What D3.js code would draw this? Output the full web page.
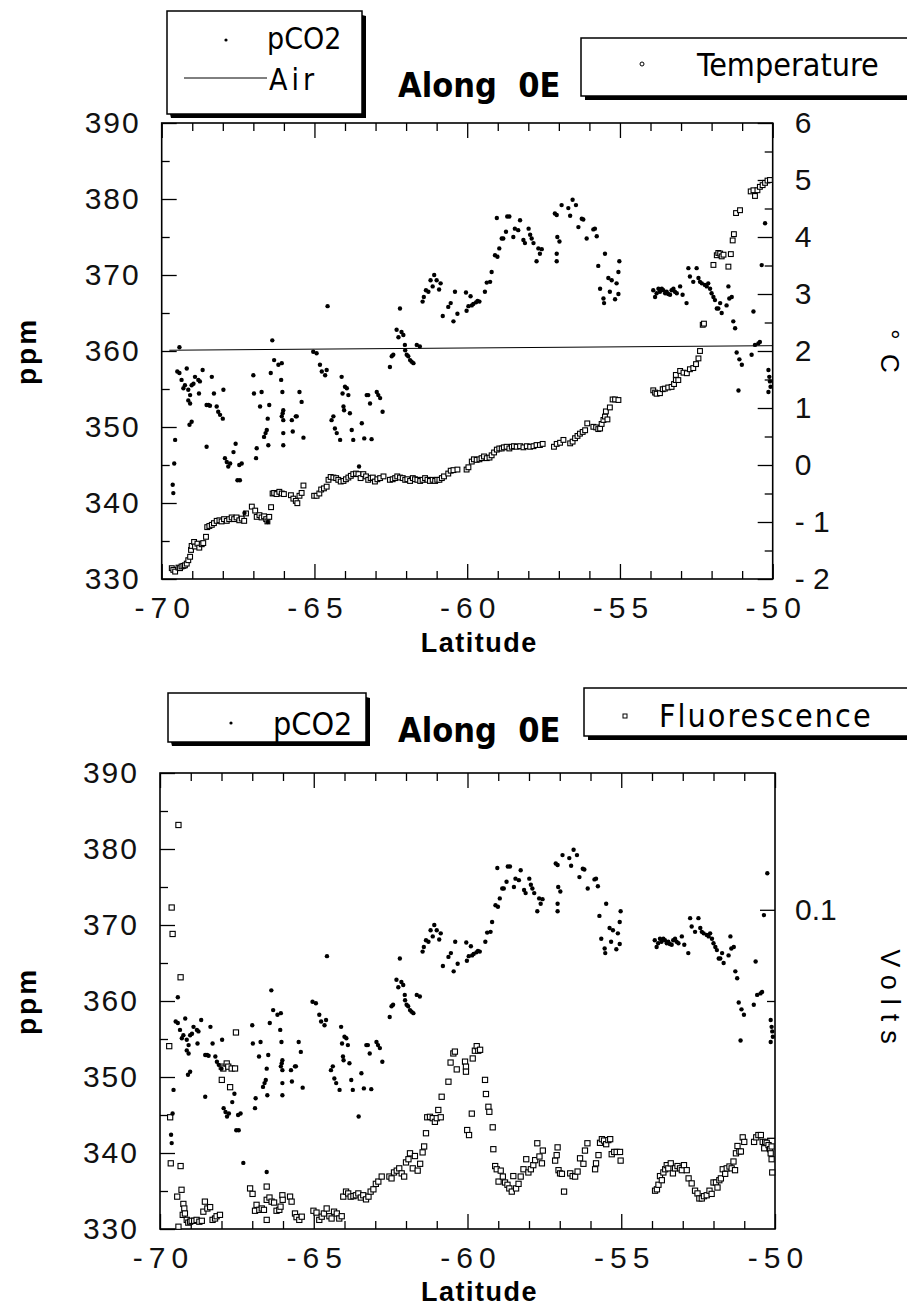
<!DOCTYPE html>
<html>
<head>
<meta charset="utf-8">
<script src="https://cdn.jsdelivr.net/npm/d3@7"></script>
<style>
  html, body { margin: 0; padding: 0; background: #fff; }
  svg { display: block; }
  .tick text { font-family: "Liberation Sans", Arial, sans-serif; font-size: 30px; fill: #111; }
</style>
</head>
<body>
<svg id="chart" width="907" height="1306"></svg>
<script>
// pCO2 along the 0°E section: [latitude, ppm]
const pco2 = [
[-69.64,342.4],[-69.62,341.3],[-69.59,345.2],[-69.56,348.3],[-69.42,360.5],[-69.49,357.3],[-69.42,357.1],[-69.35,356.2],[-69.29,355.1],[-69.24,355.5],[-69.18,357.7],[-69.13,354.9],[-69.07,354.2],[-69.02,355.5],[-68.96,355.7],[-68.91,356.6],[-68.80,356.2],[-68.75,356.0],[-68.66,357.5],[-68.78,354.4],[-69.13,353.5],[-69.07,353.1],[-69.09,350.3],[-69.02,350.7],[-68.53,352.9],[-68.47,352.9],[-68.42,352.8],[-68.36,356.6],[-68.29,354.4],[-68.20,352.7],[-68.15,352.0],[-68.09,351.6],[-68.00,351.1],[-67.98,354.9],[-68.53,347.4],[-67.93,345.9],[-67.87,345.4],[-67.82,344.8],[-67.76,345.2],[-67.65,346.7],[-67.58,347.8],[-67.52,343.0],[-67.44,343.0],[-67.46,345.0],[-67.38,345.2],[-67.29,338.7],[-67.00,356.8],[-66.98,354.4],[-66.89,347.2],[-66.91,345.9],[-66.78,352.7],[-66.73,354.6],[-66.65,348.7],[-66.60,349.2],[-66.56,349.6],[-66.53,351.1],[-66.51,347.6],[-66.48,352.9],[-66.43,357.1],[-66.38,361.4],[-66.32,358.8],[-66.18,358.2],[-66.07,358.4],[-66.09,356.2],[-66.05,354.6],[-66.02,352.2],[-66.04,351.8],[-66.07,351.4],[-66.02,350.9],[-66.02,349.2],[-66.02,347.6],[-66.53,337.5],
[-65.74,350.9],[-65.71,349.4],[-65.61,351.4],[-65.58,351.4],[-65.49,354.6],[-65.42,353.3],[-65.36,348.6],[-65.04,359.9],[-64.93,359.7],[-64.82,358.2],[-64.76,357.3],[-64.65,356.8],[-64.60,357.5],[-64.57,365.9],[-64.44,350.9],[-64.38,351.4],[-64.33,349.8],[-64.27,349.2],[-64.16,348.3],[-64.11,356.6],[-64.08,354.4],[-64.05,352.7],[-64.03,352.2],[-64.00,355.3],[-63.94,355.1],[-63.89,354.2],[-63.84,351.8],[-63.78,349.6],[-63.73,348.3],[-63.54,344.8],[-63.45,350.5],[-63.37,348.5],[-63.29,354.2],[-63.24,354.2],[-63.18,353.1],[-63.13,348.4],[-62.96,354.6],[-62.91,354.2],[-62.85,353.8],[-62.77,352.0],[-62.53,357.9],[-62.47,359.3],[-62.42,359.5],[-62.31,362.8],[-62.25,361.8],[-62.20,365.6],[-62.15,362.5],[-62.09,362.1],[-62.04,360.8],[-62.03,360.1],[-61.98,359.5],[-61.93,359.3],[-61.87,358.8],[-61.82,358.6],[-61.76,358.4],[-61.65,360.8],[-61.55,360.6],
[-61.46,366.5],[-61.42,367.1],[-61.35,368.0],[-61.27,367.8],[-61.20,369.3],[-61.13,368.5],[-61.08,370.0],[-61.00,369.3],[-60.92,368.1],[-60.87,368.9],[-60.80,364.6],[-60.62,365.8],[-60.54,366.3],[-60.45,363.9],[-60.40,367.8],[-60.32,364.9],[-60.04,367.7],[-60.02,365.3],[-59.96,365.9],[-59.89,367.2],[-59.85,366.0],[-59.80,366.2],[-59.71,366.4],[-59.66,366.6],[-59.60,366.5],[-59.42,367.8],[-59.36,369.0],[-59.25,369.1],[-59.20,370.4],[-59.09,372.6],[-59.01,372.4],[-58.95,373.5],[-58.87,374.8],[-58.82,374.8],[-58.73,375.7],[-58.69,377.7],[-58.62,377.7],[-58.49,375.0],[-58.44,376.1],[-58.33,375.9],[-59.03,377.5],[-58.27,377.2],[-58.16,374.6],[-58.11,374.2],[-57.99,376.1],[-57.94,375.3],[-57.89,374.8],[-57.83,374.2],[-57.73,371.8],[-57.67,373.5],[-57.62,372.8],[-57.56,373.4],[-57.13,378.1],[-57.07,377.9],[-57.05,375.0],[-56.98,374.4],[-57.07,372.8],[-57.07,371.8],[-56.91,379.2],[-56.69,378.8],[-56.63,377.8],[-56.55,379.9],[-56.44,379.2],[-56.36,376.3],[-56.25,377.4],[-56.20,377.3],[-56.09,374.8],[-55.87,376.0],[-55.82,376.1],[-55.76,375.1],[-55.71,371.2],[-55.65,368.2],[-55.54,366.9],[-55.52,366.3],[-55.49,372.8],[-55.38,369.6],[-55.33,367.8],[-55.27,369.3],[-55.16,366.8],[-55.11,368.9],[-55.05,370.4],[-55.02,371.8],[-55.05,367.5],
[-53.91,368.0],[-53.85,367.1],[-53.80,367.6],[-53.74,368.2],[-53.69,367.8],[-53.63,368.2],[-53.58,368.0],[-53.52,367.6],[-53.47,367.8],[-53.42,367.5],[-53.36,367.4],[-53.31,368.0],[-53.25,368.2],[-53.20,367.8],[-53.14,367.6],[-53.03,368.5],[-52.95,367.4],[-52.82,366.3],[-52.76,370.9],[-52.71,369.8],[-52.60,369.1],[-52.49,370.9],[-52.43,369.6],[-52.38,369.1],[-52.32,368.9],[-52.22,368.7],[-52.16,368.5],[-52.11,368.9],[-52.05,368.2],[-52.00,367.6],[-51.94,367.1],[-51.89,366.7],[-51.83,365.6],[-51.78,365.6],[-51.72,366.3],[-51.67,365.0],[-51.51,366.0],[-51.45,368.5],[-51.42,366.9],[-51.34,367.1],[-51.29,363.9],[-51.23,363.0],[-51.18,359.8],[-51.09,358.9],[-51.01,358.2],[-51.12,354.8],[-50.69,359.5],[-50.63,365.2],[-50.58,360.8],[-50.47,361.0],[-50.42,361.2],[-50.36,371.3],[-50.25,376.8],[-50.14,357.5],[-50.11,356.6],[-50.09,356.0],[-50.07,355.3],[-50.14,354.6]
];

// Atmospheric CO2: [latitude, ppm]
const air = [[-69.75,360.1],[-50.0,360.7]];

// Sea surface temperature: [latitude, °C]
const temperature = [
[-69.67,-1.81],[-69.62,-1.84],[-69.56,-1.87],[-69.45,-1.80],[-69.40,-1.81],[-69.35,-1.78],[-69.29,-1.77],[-69.24,-1.76],[-69.18,-1.73],[-69.13,-1.67],[-69.07,-1.61],[-69.04,-1.49],[-69.02,-1.42],[-68.94,-1.35],[-68.91,-1.43],[-68.83,-1.38],[-68.77,-1.45],[-68.69,-1.39],[-68.64,-1.37],[-68.55,-1.26],[-68.51,-1.09],[-68.44,-1.07],[-68.36,-1.05],[-68.29,-1.02],[-68.20,-0.98],[-68.11,-0.97],[-68.04,-0.99],[-67.96,-0.95],[-67.87,-0.98],[-67.79,-0.95],[-67.71,-0.92],[-67.63,-0.95],[-67.55,-0.92],[-67.46,-0.97],[-67.38,-0.94],[-67.30,-0.98],[-67.24,-0.85],[-67.05,-0.73],[-66.94,-0.80],[-66.89,-0.91],[-66.80,-0.88],[-66.73,-0.92],[-66.65,-0.90],[-66.58,-0.95],[-66.54,-0.99],[-66.48,-0.91],[-66.42,-0.74],[-66.37,-0.50],[-66.32,-0.49],[-66.24,-0.51],[-66.15,-0.47],[-66.07,-0.50],[-66.00,-0.51],[-65.77,-0.53],[-65.69,-0.59],[-65.61,-0.63],[-65.56,-0.67],[-65.49,-0.54],[-65.42,-0.49],[-65.36,-0.36],
[-65.01,-0.54],[-64.93,-0.54],[-64.84,-0.50],[-64.78,-0.43],[-64.69,-0.41],[-64.60,-0.38],[-64.54,-0.26],[-64.47,-0.21],[-64.38,-0.22],[-64.29,-0.23],[-64.22,-0.26],[-64.14,-0.29],[-64.05,-0.28],[-63.97,-0.25],[-63.89,-0.22],[-63.81,-0.19],[-63.73,-0.16],[-63.64,-0.15],[-63.56,-0.16],[-63.49,-0.23],[-63.40,-0.16],[-63.31,-0.20],[-63.24,-0.26],[-63.16,-0.23],[-63.09,-0.22],[-63.02,-0.29],[-62.94,-0.25],[-62.85,-0.23],[-62.74,-0.20],[-62.53,-0.26],[-62.44,-0.25],[-62.36,-0.23],[-62.29,-0.20],[-62.20,-0.22],[-62.11,-0.23],[-62.03,-0.26],[-61.96,-0.25],[-61.87,-0.28],[-61.78,-0.23],[-61.71,-0.25],[-61.63,-0.26],[-61.54,-0.28],[-61.46,-0.26],[-61.38,-0.23],[-61.30,-0.26],[-61.22,-0.28],[-61.13,-0.26],[-61.05,-0.28],[-60.98,-0.26],[-60.91,-0.26],[-60.83,-0.23],[-60.76,-0.20],[-60.62,-0.15],[-60.54,-0.10],[-60.45,-0.09],[-60.32,-0.08],[-60.02,-0.08],[-59.96,-0.04],[-59.85,0.06],[-59.78,0.10],[-59.69,0.09],[-59.60,0.10],[-59.53,0.12],[-59.45,0.15],[-59.36,0.12],[-59.27,0.13],[-59.20,0.17],[-59.12,0.22],[-59.03,0.27],[-58.95,0.29],[-58.87,0.29],[-58.80,0.31],[-58.71,0.32],[-58.62,0.29],[-58.54,0.32],[-58.47,0.33],[-58.38,0.32],
[-58.27,0.33],[-58.16,0.31],[-58.05,0.33],[-57.94,0.32],[-57.83,0.33],[-57.73,0.35],[-57.62,0.35],[-57.53,0.37],[-57.16,0.32],[-57.07,0.37],[-56.96,0.39],[-56.85,0.44],[-56.63,0.38],[-56.55,0.41],[-56.47,0.47],[-56.39,0.51],[-56.31,0.55],[-56.22,0.58],[-56.14,0.61],[-56.07,0.73],[-55.87,0.67],[-55.78,0.66],[-55.71,0.63],[-55.65,0.64],[-55.60,0.72],[-55.54,0.79],[-55.49,0.85],[-55.46,0.94],[-55.41,0.80],[-55.33,1.01],[-55.24,1.15],[-55.16,1.15],[-55.05,1.14],
[-53.91,1.31],[-53.85,1.27],[-53.80,1.25],[-53.69,1.26],[-53.60,1.33],[-53.53,1.34],[-53.42,1.36],[-53.31,1.37],[-53.23,1.42],[-53.17,1.49],[-53.09,1.49],[-53.17,1.58],[-53.03,1.65],[-52.92,1.62],[-52.81,1.61],[-52.71,1.68],[-52.60,1.70],[-52.51,1.77],[-52.43,1.87],[-52.38,2.00],[-52.29,2.46],[-52.25,2.48],[-51.94,3.51],[-51.83,3.68],[-51.78,3.72],[-51.72,3.71],[-51.67,3.66],[-51.61,3.69],[-51.45,3.48],[-51.37,3.70],[-51.31,3.94],[-51.27,4.05],[-51.20,4.42],[-51.07,4.47],[-50.72,4.80],[-50.63,4.82],[-50.58,4.72],[-50.50,4.82],[-50.42,4.88],[-50.33,4.91],[-50.25,4.95],[-50.17,4.99],[-50.09,5.00]
];

// Fluorometer output: [latitude, volts]
const fluorescence = [
[-69.40,0.1186],[-69.62,0.1005],[-69.59,0.0947],[-69.33,0.0852],[-69.70,0.0701],[-69.67,0.0545],[-69.65,0.0444],[-69.33,0.0438],[-69.44,0.0371],[-69.30,0.0386],[-69.24,0.0355],[-69.21,0.0345],[-69.26,0.0331],[-69.19,0.0334],[-69.13,0.0320],[-69.08,0.0314],[-69.02,0.0316],[-68.97,0.0318],[-68.89,0.0318],[-68.81,0.0320],[-68.72,0.0316],[-68.64,0.0318],[-69.40,0.0305],[-68.59,0.0338],[-68.54,0.0360],[-68.46,0.0345],[-68.37,0.0348],[-68.29,0.0320],[-68.21,0.0323],[-68.16,0.0328],[-68.05,0.0331],
[-67.99,0.0656],[-67.94,0.0652],[-67.83,0.0663],[-67.78,0.0656],[-67.67,0.0652],[-67.56,0.0652],[-67.99,0.0627],[-67.72,0.0611],[-67.53,0.0731],[-67.07,0.0389],[-66.99,0.0377],[-66.91,0.0340],[-66.86,0.0353],[-66.77,0.0342],[-66.69,0.0345],[-66.62,0.0342],[-66.53,0.0393],[-66.53,0.0364],[-66.53,0.0320],[-66.44,0.0369],[-66.37,0.0360],[-66.29,0.0358],[-66.21,0.0340],[-66.12,0.0342],[-66.08,0.0349],[-66.02,0.0374],[-66.01,0.0364],[-65.77,0.0371],[-65.72,0.0360],[-65.61,0.0334],[-65.56,0.0326],[-65.47,0.0320],[-65.39,0.0327],
[-65.01,0.0340],[-64.91,0.0336],[-64.82,0.0320],[-64.74,0.0327],[-64.67,0.0334],[-64.58,0.0345],[-64.49,0.0328],[-64.42,0.0323],[-64.34,0.0338],[-64.25,0.0334],[-64.17,0.0323],[-64.09,0.0328],[-64.04,0.0371],[-63.95,0.0382],[-63.88,0.0378],[-63.80,0.0371],[-63.71,0.0372],[-63.63,0.0374],[-63.55,0.0378],[-63.47,0.0369],[-63.39,0.0374],[-63.30,0.0365],[-63.22,0.0371],[-63.15,0.0382],[-63.06,0.0387],[-62.98,0.0399],[-62.90,0.0404],[-62.79,0.0415],[-62.54,0.0415],[-62.47,0.0411],[-62.39,0.0424],[-62.30,0.0428],[-62.22,0.0433],[-62.14,0.0422],[-62.06,0.0415],[-62.00,0.0446],[-61.92,0.0453],[-61.87,0.0466],[-61.78,0.0433],[-61.71,0.0460],[-61.62,0.0428],[-61.54,0.0443],[-61.46,0.0468],[-61.41,0.0481],[-61.35,0.0510],[-61.31,0.0545],[-61.22,0.0546],[-61.13,0.0543],[-61.06,0.0535],[-61.00,0.0543],[-60.95,0.0561],[-60.87,0.0545],[-60.84,0.0590],[-60.62,0.0623],[-60.55,0.0665],[-60.46,0.0685],[-60.41,0.0689],[-60.35,0.0650],[-60.08,0.0667],[-60.05,0.0656],[-60.05,0.0645],[-60.01,0.0517],[-59.95,0.0506],[-59.86,0.0553],[-59.83,0.0674],[-59.76,0.0691],[-59.70,0.0701],[-59.65,0.0691],[-59.59,0.0693],[-59.43,0.0627],[-59.40,0.0596],[-59.32,0.0568],[-59.29,0.0557],[-59.18,0.0523],[-59.16,0.0475],
[-59.10,0.0438],[-59.05,0.0431],[-58.99,0.0404],[-58.92,0.0428],[-58.85,0.0415],[-58.78,0.0402],[-58.70,0.0397],[-58.64,0.0389],[-58.56,0.0382],[-58.51,0.0416],[-58.42,0.0389],[-58.34,0.0399],[-58.27,0.0415],[-58.18,0.0431],[-58.09,0.0453],[-58.02,0.0424],[-57.94,0.0431],[-57.86,0.0440],[-57.80,0.0451],[-57.73,0.0488],[-57.66,0.0459],[-57.58,0.0444],[-57.55,0.0472],[-57.15,0.0450],[-57.10,0.0462],[-57.07,0.0479],[-57.04,0.0429],[-56.99,0.0422],[-56.93,0.0421],[-56.86,0.0382],[-56.66,0.0422],[-56.58,0.0416],[-56.50,0.0415],[-56.42,0.0426],[-56.34,0.0455],[-56.23,0.0443],[-56.18,0.0472],[-56.10,0.0488],[-55.85,0.0431],[-55.82,0.0444],[-55.74,0.0462],[-55.69,0.0489],[-55.63,0.0497],[-55.56,0.0494],[-55.49,0.0486],[-55.42,0.0495],[-55.36,0.0497],[-55.31,0.0464],[-55.23,0.0469],[-55.15,0.0469],[-55.04,0.0469],[-55.02,0.0450],
[-53.90,0.0384],[-53.84,0.0387],[-53.79,0.0397],[-53.74,0.0416],[-53.68,0.0407],[-53.63,0.0424],[-53.57,0.0431],[-53.52,0.0440],[-53.47,0.0433],[-53.39,0.0444],[-53.32,0.0422],[-53.25,0.0433],[-53.17,0.0438],[-53.09,0.0433],[-53.03,0.0429],[-52.96,0.0440],[-52.87,0.0429],[-52.81,0.0411],[-52.71,0.0400],[-52.60,0.0384],[-52.52,0.0378],[-52.46,0.0367],[-52.38,0.0367],[-52.31,0.0372],[-52.22,0.0374],[-52.13,0.0384],[-52.06,0.0377],[-52.00,0.0402],[-51.92,0.0402],[-51.87,0.0391],[-51.81,0.0407],[-51.76,0.0411],[-51.70,0.0431],[-51.62,0.0421],[-51.57,0.0433],[-51.48,0.0437],[-51.41,0.0433],[-51.35,0.0448],[-51.30,0.0429],[-51.27,0.0466],[-51.22,0.0482],[-51.16,0.0470],[-51.11,0.0470],[-51.05,0.0501],[-51.00,0.0491],[-50.68,0.0491],[-50.61,0.0501],[-50.54,0.0506],[-50.46,0.0506],[-50.40,0.0491],[-50.32,0.0491],[-50.27,0.0489],[-50.35,0.0477],[-50.21,0.0484],[-50.16,0.0475],[-50.14,0.0466],[-50.11,0.0481],[-50.11,0.0453],[-50.09,0.0424]
];

// Axis ranges and tick values
const latDomain = [-70, -50];
const ppmDomain = [330, 390];
const tempDomain = [-2, 6];
const voltDomain = [0.03, 0.13];
const latMajor = [-70, -65, -60, -55, -50];
const latMinor = d3.range(-69, -50, 1).filter(v => v % 5 !== 0);
const ppmMajor = [330, 340, 350, 360, 370, 380, 390];
const ppmMinor = [335, 345, 355, 365, 375, 385];
const tempMajor = [-2, -1, 0, 1, 2, 3, 4, 5, 6];
const tempMinor = [-1.5, -0.5, 0.5, 1.5, 2.5, 3.5, 4.5, 5.5];
const voltMajor = [0.1];
const voltMinor = [0.05, 0.08];

const svg = d3.select("#chart");
const FONT = '"Liberation Sans", Arial, sans-serif';
const NARROW = '"DejaVu Sans Condensed", "Liberation Sans", sans-serif';

const fmtLat = d => (d < 0 ? "-" + Math.abs(d) : String(d));
const fmtTemp = d => (d < 0 ? "- " + Math.abs(d) : String(d));

function panel(box) {
  const g = svg.append("g");
  const x = d3.scaleLinear(latDomain, [box.left, box.right]);
  const y = d3.scaleLinear(ppmDomain, [box.bottom, box.top]);

  // minor ticks (inside the frame)
  const minorLen = 8, majorLen = 15;
  g.append("g").attr("transform", `translate(0,${box.bottom})`)
    .call(d3.axisBottom(x).tickValues(latMinor).tickSize(-minorLen).tickFormat(""));
  g.append("g").attr("transform", `translate(0,${box.top})`)
    .call(d3.axisTop(x).tickValues(latMinor).tickSize(-minorLen).tickFormat(""));
  g.append("g").attr("transform", `translate(${box.left},0)`)
    .call(d3.axisLeft(y).tickValues(ppmMinor).tickSize(-minorLen).tickFormat(""));

  // major ticks with labels
  const xb = g.append("g").attr("transform", `translate(0,${box.bottom})`)
    .call(d3.axisBottom(x).tickValues(latMajor).tickSize(-majorLen).tickPadding(18).tickFormat(fmtLat));
  xb.selectAll("text").style("letter-spacing", "6px").attr("dx", "3px");
  g.append("g").attr("transform", `translate(0,${box.top})`)
    .call(d3.axisTop(x).tickValues(latMajor).tickSize(-majorLen).tickFormat(""));
  const yl = g.append("g").attr("transform", `translate(${box.left},0)`)
    .call(d3.axisLeft(y).tickValues(ppmMajor).tickSize(-majorLen).tickPadding(23).tickFormat(d3.format("d")));
  yl.selectAll("text").style("letter-spacing", "2px").attr("dx", "2px");

  g.selectAll(".domain").remove();
  g.selectAll(".tick line").attr("stroke", "#000").attr("stroke-width", 1.3);

  // frame
  g.append("rect")
    .attr("x", box.left).attr("y", box.top)
    .attr("width", box.right - box.left).attr("height", box.bottom - box.top)
    .attr("fill", "none").attr("stroke", "#000").attr("stroke-width", 1.6);

  // axis titles
  svg.append("text")
    .attr("transform", `translate(36,${(box.top + box.bottom) / 2}) rotate(-90)`)
    .attr("text-anchor", "middle")
    .style("font-family", FONT).style("font-weight", "bold").style("font-size", "28px")
    .style("letter-spacing", "3px")
    .text("ppm");
  svg.append("text")
    .attr("x", (box.left + box.right) / 2 + 12).attr("y", box.latY)
    .attr("text-anchor", "middle")
    .style("font-family", FONT).style("font-weight", "bold").style("font-size", "27px")
    .style("letter-spacing", "1.5px")
    .text("Latitude");

  return { g, x, y };
}

function legendBox(x0, y0, x1, y1, shadowRight) {
  const s = 4;
  const g = svg.append("g");
  if (shadowRight) {
    g.append("polygon")
      .attr("points", `${x1},${y0 + s} ${x1 + s},${y0 + s + 1} ${x1 + s},${y1 + s} ${x0 + s},${y1 + s} ${x0 + s - 1},${y1}`)
      .attr("fill", "#000");
  } else {
    g.append("rect").attr("x", x0 + s).attr("y", y1).attr("width", x1 - x0).attr("height", s).attr("fill", "#000");
  }
  g.append("rect").attr("x", x0).attr("y", y0).attr("width", x1 - x0).attr("height", y1 - y0)
    .attr("fill", "#fff").attr("stroke", "#000").attr("stroke-width", 1.5);
  return g;
}

function legendText(g, x, y, str, size, spacing) {
  return g.append("text").attr("x", x).attr("y", y)
    .style("font-family", NARROW).style("font-size", size + "px")
    .style("letter-spacing", (spacing || 0) + "px").text(str);
}

function title(y) {
  svg.append("text").attr("x", 398).attr("y", y)
    .style("font-family", NARROW).style("font-weight", "bold").style("font-size", "34px").style("white-space", "pre")
    .text("Along  0E");
}

// ---------------- Upper panel: pCO2, air and temperature ----------------
const P1 = { left: 161.7, top: 123, right: 772.7, bottom: 579, latY: 652 };
const upper = panel(P1);
const tScale = d3.scaleLinear(tempDomain, [P1.bottom, P1.top]);

upper.g.append("g").attr("transform", `translate(${P1.right},0)`)
  .call(d3.axisRight(tScale).tickValues(tempMinor).tickSize(-8).tickFormat(""));
const trM = upper.g.append("g").attr("transform", `translate(${P1.right},0)`)
  .call(d3.axisRight(tScale).tickValues(tempMajor).tickSize(-15).tickPadding(22).tickFormat(fmtTemp));
trM.selectAll("text").style("white-space", "pre");
upper.g.selectAll(".domain").remove();
upper.g.selectAll(".tick line").attr("stroke", "#000").attr("stroke-width", 1.3);

// air CO2 line
upper.g.append("path")
  .datum(air)
  .attr("d", d3.line().x(d => upper.x(d[0])).y(d => upper.y(d[1])))
  .attr("fill", "none").attr("stroke", "#000").attr("stroke-width", 1);

// temperature squares
upper.g.append("g").selectAll("rect").data(temperature).join("rect")
  .attr("x", d => upper.x(d[0]) - 2.4).attr("y", d => tScale(d[1]) - 2.4)
  .attr("width", 4.8).attr("height", 4.8)
  .attr("fill", "#fff").attr("stroke", "#000").attr("stroke-width", 1.1);

// pCO2 dots
upper.g.append("g").selectAll("circle").data(pco2).join("circle")
  .attr("cx", d => upper.x(d[0])).attr("cy", d => upper.y(d[1])).attr("r", 2.2).attr("fill", "#000");

svg.append("text")
  .attr("transform", `translate(881,${(P1.top + P1.bottom) / 2}) rotate(90)`)
  .attr("text-anchor", "middle")
  .style("font-family", FONT).style("font-size", "26px").style("white-space", "pre")
  .text("°  C");

// legends and title
const l1 = legendBox(167, 11, 362, 114, true);
l1.append("circle").attr("cx", 226).attr("cy", 40).attr("r", 1.6).attr("fill", "#000");
legendText(l1, 267, 49, "pCO2", 30);
l1.append("line").attr("x1", 184).attr("x2", 267).attr("y1", 78).attr("y2", 78).attr("stroke", "#000").attr("stroke-width", 1);
legendText(l1, 269, 90, "Air", 30, 4);
title(97);

const l2 = legendBox(581, 38, 912, 96, false);
l2.append("circle").attr("cx", 642).attr("cy", 64).attr("r", 2).attr("fill", "#fff").attr("stroke", "#000").attr("stroke-width", 1);
legendText(l2, 697, 76, "Temperature", 32);

// ---------------- Lower panel: pCO2 and fluorescence ----------------
const P2 = { left: 160, top: 773, right: 775, bottom: 1229, latY: 1301 };
const lower = panel(P2);
const vScale = d3.scaleLinear(voltDomain, [P2.bottom, P2.top]);

lower.g.append("g").attr("transform", `translate(${P2.right},0)`)
  .call(d3.axisRight(vScale).tickValues(voltMinor).tickSize(-8).tickFormat(""));
lower.g.append("g").attr("transform", `translate(${P2.right},0)`)
  .call(d3.axisRight(vScale).tickValues(voltMajor).tickSize(-15).tickPadding(20).tickFormat(d3.format(".1f")));
lower.g.selectAll(".domain").remove();
lower.g.selectAll(".tick line").attr("stroke", "#000").attr("stroke-width", 1.3);

// fluorescence squares
lower.g.append("g").selectAll("rect").data(fluorescence).join("rect")
  .attr("x", d => lower.x(d[0]) - 2.6).attr("y", d => vScale(d[1]) - 2.6)
  .attr("width", 5.2).attr("height", 5.2)
  .attr("fill", "#fff").attr("stroke", "#000").attr("stroke-width", 1.1);

// pCO2 dots
lower.g.append("g").selectAll("circle").data(pco2).join("circle")
  .attr("cx", d => lower.x(d[0])).attr("cy", d => lower.y(d[1])).attr("r", 2.2).attr("fill", "#000");

svg.append("text")
  .attr("transform", `translate(881,${(P2.top + P2.bottom) / 2}) rotate(90)`)
  .attr("text-anchor", "middle")
  .style("font-family", FONT).style("font-size", "27px").style("letter-spacing", "9px")
  .text("Volts");

const l3 = legendBox(168, 693, 366, 742, true);
l3.append("circle").attr("cx", 231).attr("cy", 723).attr("r", 1.6).attr("fill", "#000");
legendText(l3, 273, 735, "pCO2", 32);
title(742);

const l4 = legendBox(584, 688, 912, 736, false);
l4.append("rect").attr("x", 623).attr("y", 714).attr("width", 4).attr("height", 4)
  .attr("fill", "#fff").attr("stroke", "#000").attr("stroke-width", 1);
legendText(l4, 659, 727, "Fluorescence", 32, 2);
</script>
</body>
</html>
